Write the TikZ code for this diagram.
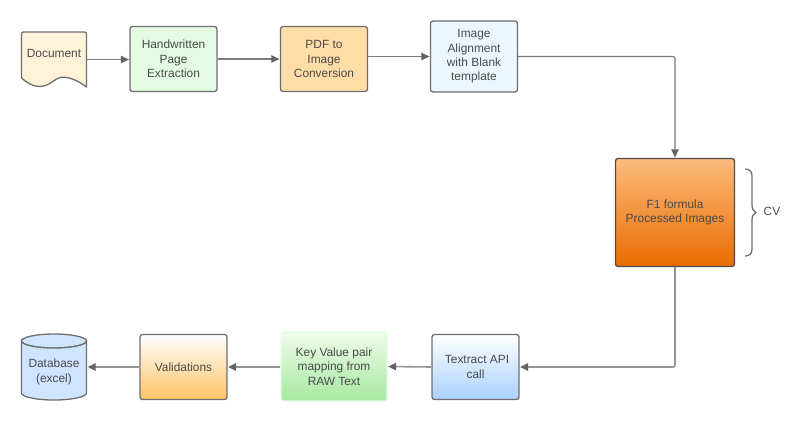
\documentclass[tikz,border=0pt]{standalone}
\usepackage{fontspec}
\setmainfont{Liberation Sans}
\usetikzlibrary{arrows.meta,shapes.geometric}
\definecolor{txt}{HTML}{4A4A4A}
\definecolor{edge}{HTML}{6E6E6E}
\definecolor{conn}{HTML}{7A7A7A}
\definecolor{connlow}{HTML}{949494}
\definecolor{docfill}{HTML}{FFF2D9}
\definecolor{hwfill}{HTML}{E3FBE3}
\definecolor{pdffill}{HTML}{FFDDA6}
\definecolor{imgfill}{HTML}{EDF5FF}
\definecolor{f1top}{HTML}{FDBB7D}
\definecolor{f1bot}{HTML}{E96C00}
\definecolor{txbot}{HTML}{A9D0FF}
\definecolor{keyedge}{HTML}{E3FBE3}
\definecolor{keytop}{HTML}{EFFBEA}
\definecolor{keybot}{HTML}{A6E9A0}
\definecolor{valbot}{HTML}{FFC266}
\definecolor{dbfill}{HTML}{CFE4FF}
\tikzset{
  box/.style={draw=edge,line width=1.3pt,rounded corners=2.5pt,align=center,text=txt,
    font=\fontsize{11.9}{14.3}\selectfont,inner sep=0pt},
  link/.style={draw=conn,line width=1.1pt,-{Triangle[length=8pt,width=7.5pt,color=edge!90!black]},shorten >=0.5pt},
  lowlink/.style={link,draw=connlow,line width=1.6pt},
  lbl/.style={text=txt,align=center,font=\fontsize{11.9}{14.3}\selectfont,inner sep=0pt}
}
\begin{document}
\begin{tikzpicture}[x=1pt,y=-1pt]
\useasboundingbox (0,0) rectangle (810,424);
% Document shape
\path[draw=edge,line width=1.3pt,line join=round,fill=docfill]
  (23.5,32) -- (84.5,32) .. controls (85.8,32) and (86.5,32.8) .. (86.5,34) -- (86.5,87)
  .. controls (78,80.5) and (68,76) .. (60,77.5) .. controls (54,79) and (50,86) .. (40,86.5)
  .. controls (33,86.5) and (27,83) .. (21.5,78) -- (21.5,34)
  .. controls (21.5,32.8) and (22.2,32) .. (23.5,32) -- cycle;
\node[lbl] (doc) at (54,53.5) {Document};
\coordinate (docout) at (86.5,59.5);
\node[box,fill=hwfill,minimum width=87pt,minimum height=65pt] (hw) at (173.5,59) {Handwritten\\Page\\Extraction};
\node[box,fill=pdffill,minimum width=87pt,minimum height=65pt] (pdf) at (324,59) {PDF to\\Image\\Conversion};
\node[box,fill=imgfill,minimum width=87pt,minimum height=71pt] (img) at (474,56.5) {Image\\Alignment\\with Blank\\template};
\node[box,draw=black!70,top color=f1top,bottom color=f1bot,minimum width=119pt,minimum height=108pt] (f1) at (675,212.5) {F1 formula\\Processed Images};
\node[box,top color=white,bottom color=txbot,minimum width=87pt,minimum height=65pt] (tx) at (475.5,367) {\hspace*{3pt}Textract API\\call};
\node[box,draw=keyedge,top color=keytop,bottom color=keybot,minimum width=106pt,minimum height=69pt] (key) at (334,366.5) {Key Value pair\\mapping from\\RAW Text};
\node[box,top color=white,bottom color=valbot,minimum width=87pt,minimum height=65pt] (val) at (183.5,367) {Validations};
% Database cylinder
\path[draw=edge,line width=1.3pt,fill=dbfill] (21.5,341) arc[start angle=180,end angle=-180,x radius=32.5,y radius=7];
\path[draw=edge,line width=1.3pt,fill=dbfill] (21.5,341) -- (21.5,393)
  arc[start angle=180,end angle=360,x radius=32.5,y radius=-7] -- (86.5,341)
  arc[start angle=360,end angle=180,x radius=32.5,y radius=-7] -- cycle;
\node[lbl,minimum width=66pt,minimum height=30pt] (db) at (54,372) {Database\\(excel)};
% connectors
\draw[link] (docout) -- (hw.west |- docout);
\draw[link] (hw.east) -- (pdf.west);
\draw[link] (pdf.east |- img.east) -- (img.west);
\draw[link,rounded corners=2pt] (img.east) -| (f1.north);
\draw[lowlink,rounded corners=2pt] (f1.south) |- (tx.east);
\draw[lowlink] (tx.west) -- (key.east);
\draw[lowlink] (key.west |- val.east) -- (val.east);
\draw[lowlink] (val.west) -- (db.east |- val.west);
% brace
\draw[edge,line width=1.3pt,line cap=round]
  (745.5,169) .. controls (750,169.5) and (752,171.5) .. (752,176) -- (752,205)
  .. controls (752,209) and (753.5,211.5) .. (756,212.5)
  .. controls (753.5,213.5) and (752,216) .. (752,220) -- (752,249)
  .. controls (752,253.5) and (750,255.5) .. (745.5,256);
\node[lbl] (cv) at (772,211) {CV};
\end{tikzpicture}
\end{document}
